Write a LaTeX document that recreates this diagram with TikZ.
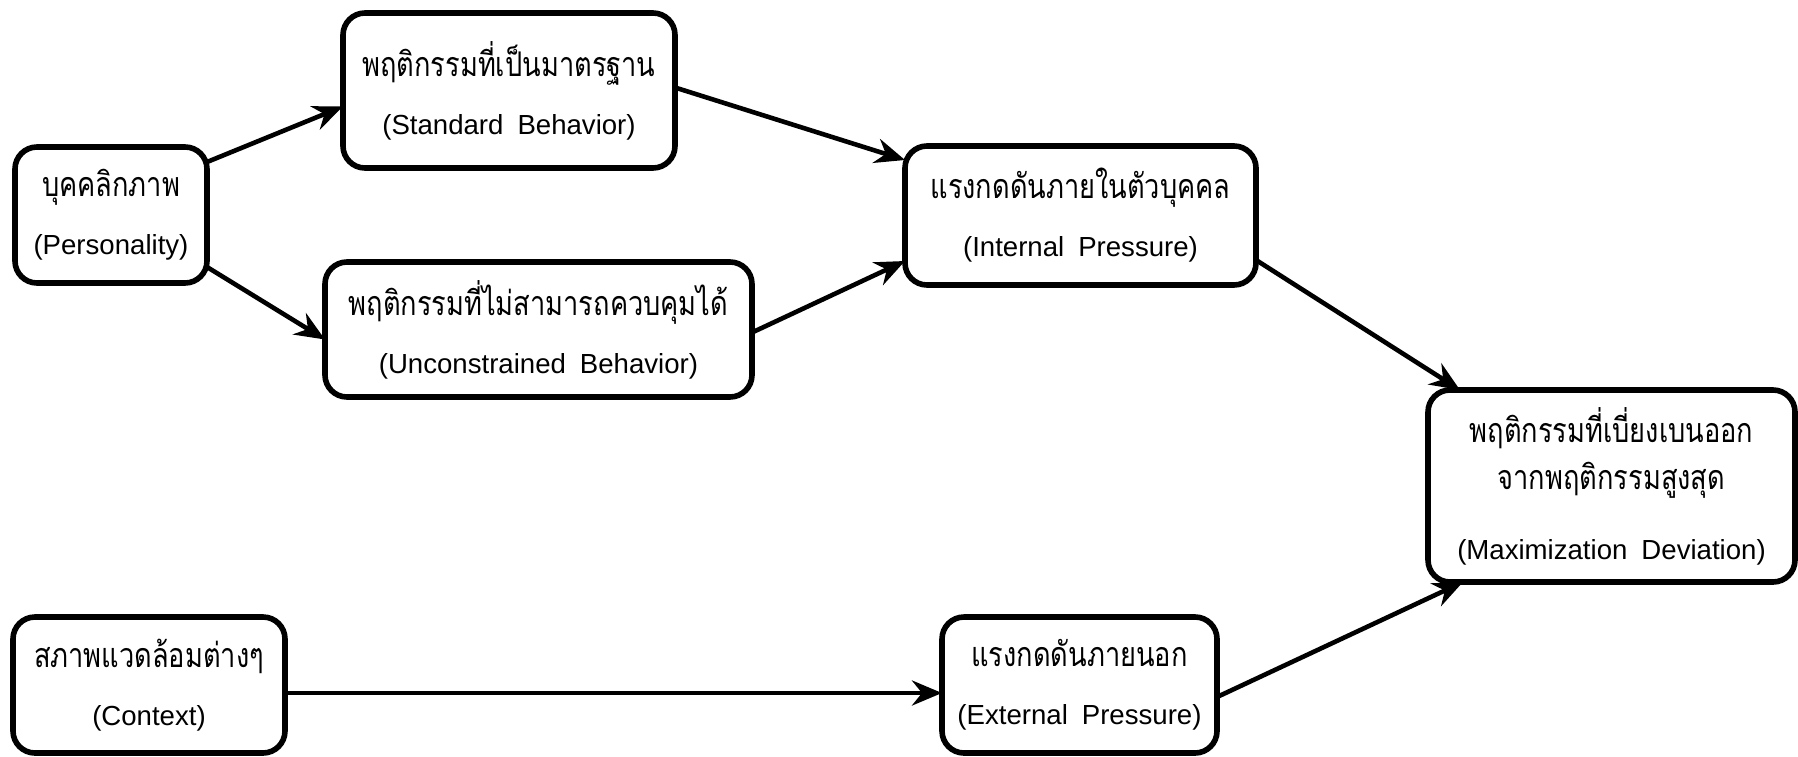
\documentclass[tikz,border=0pt]{standalone}
\usepackage{fontspec}
\setmainfont{Liberation Sans}
\newfontfamily\thaifnt[Script=Thai,FakeStretch=0.8]{Loma}
\newcommand{\thai}{\fontsize{17}{29}\thaifnt}
\usetikzlibrary{arrows.meta,calc}
\newcommand{\gp}{\hspace{7pt}}
\begin{document}
\begin{tikzpicture}[x=0.5pt,y=-0.5pt,
  box/.style={draw=black, line width=2.8pt, rounded corners=11pt, fill=white,
    align=center, inner sep=0pt, outer sep=0pt,
    font=\fontsize{13.8}{29}\selectfont},
  conn/.style={line width=2.3pt, -{Stealth[length=15pt,width=12.5pt,inset=5pt]}}]
\useasboundingbox (0,0) rectangle (1798,756);
\node[box, minimum width=96pt, minimum height=68pt] (pers) at (111,215)
  {{\thai บุคคลิกภาพ}\\(Personality)};
\node[box, minimum width=166pt, minimum height=77.5pt] (std) at (509,90.5)
  {{\thai พฤติกรรมที่เป็นมาตรฐาน}\\(Standard\gp Behavior)};
\node[box, minimum width=213.5pt, minimum height=67.5pt] (unc) at (538.5,329.5)
  {{\thai พฤติกรรมที่ไม่สามารถควบคุมได้}\\(Unconstrained\gp Behavior)};
\node[box, minimum width=175.5pt, minimum height=69.5pt] (int) at (1080.5,215.5)
  {{\thai แรงกดดันภายในตัวบุคคล}\\(Internal\gp Pressure)};
\node[box, minimum width=183.5pt, minimum height=96pt] (max) at (1611.5,486)
  {{\thai พฤติกรรมที่เบี่ยงเบนออก}\\[-5.5pt]{\thai จากพฤติกรรมสูงสุด}\\[6pt](Maximization\gp Deviation)};
\node[box, minimum width=136pt, minimum height=68pt] (ctx) at (149,685)
  {{\thai สภาพแวดล้อมต่างๆ}\\(Context)};
\node[box, minimum width=137.5pt, minimum height=68pt] (ext) at (1079.5,685)
  {{\thai แรงกดดันภายนอก}\\(External\gp Pressure)};
\draw[conn] ($(pers.north east)+(0,15)$) -- ($(std.west)+(0,16)$);
\draw[conn] ($(pers.south east)+(0,-16)$) -- ($(unc.west)+(0,10)$);
\draw[conn] ($(std.east)+(0,-3)$) -- ($(int.north west)+(0,14)$);
\draw[conn] ($(unc.east)+(0,3)$) -- ($(int.south west)+(0,-24)$);
\draw[conn] ($(int.south east)+(0,-25)$) -- ($(max.north west)+(32,0)$);
\draw[conn] ($(ctx.east)+(0,8)$) -- ($(ext.west)+(0,8)$);
\draw[conn] ($(ext.east)+(0,12)$) -- ($(max.south west)+(35,0)$);
\end{tikzpicture}
\end{document}
